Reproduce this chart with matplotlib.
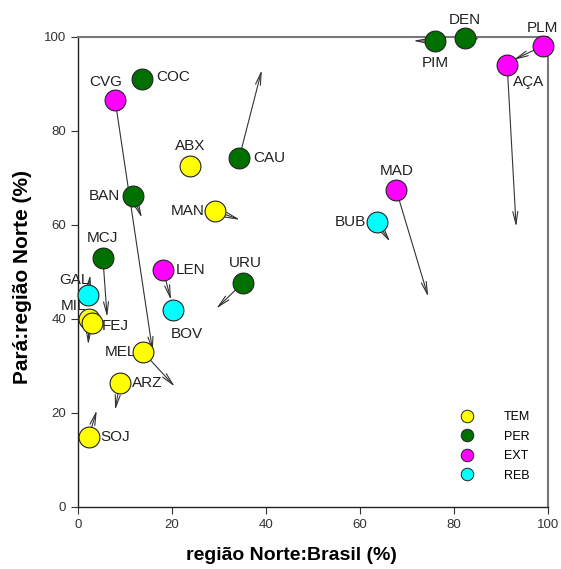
import matplotlib
matplotlib.use("Agg")
import matplotlib.pyplot as plt
from matplotlib.lines import Line2D

plt.rcParams['font.family'] = ['Liberation Sans', 'DejaVu Sans']

# products, group and position (x = região Norte:Brasil %, y = Pará:região Norte %)
names = ['PLM', 'DEN', 'PIM', 'AÇA', 'COC', 'CVG', 'ABX', 'CAU', 'MAD', 'BAN',
         'MAN', 'BUB', 'MCJ', 'LEN', 'URU', 'GAL', 'BOV', 'MIL', 'FEJ', 'MEL',
         'ARZ', 'SOJ']
groups = ['EXT', 'PER', 'PER', 'EXT', 'PER', 'EXT', 'TEM', 'PER', 'EXT', 'PER',
          'TEM', 'REB', 'PER', 'EXT', 'PER', 'REB', 'REB', 'TEM', 'TEM', 'TEM',
          'TEM', 'TEM']
x = [98.9, 82.3, 76.0, 91.3, 13.6, 7.9, 23.8, 34.3, 67.7, 11.7,
     29.1, 63.6, 5.3, 18.1, 35.1, 2.1, 20.2, 2.3, 3.0, 13.8,
     8.9, 2.3]
y = [98.1, 99.8, 99.1, 94.0, 91.1, 86.6, 72.6, 74.3, 67.4, 66.2,
     63.0, 60.6, 53.0, 50.4, 47.7, 45.1, 41.9, 40.0, 39.1, 33.0,
     26.4, 14.9]
# arrow end points (None = no arrow)
x_end = [92.6, 85.5, 71.3, 93.2, None, 15.9, None, 39.1, 74.5, 13.6,
         34.5, 66.4, 6.2, 19.8, 29.4, 2.6, None, 2.2, None, 20.6,
         7.9, 4.0]
y_end = [95.1, 99.6, 99.2, 59.6, None, 33.0, None, 93.0, 44.7, 61.5,
         61.1, 56.4, 40.4, 44.0, 42.2, 49.4, None, 34.5, None, 25.6,
         20.6, 20.6]

group_order = ['TEM', 'PER', 'EXT', 'REB']
group_colors = {'TEM': '#FFFF00', 'PER': '#007000', 'EXT': '#FF00FF', 'REB': '#00FFFF'}

# label offsets in points
offsets = {
    'PLM': (0, 13, 'center'), 'DEN': (0, 13, 'center'), 'PIM': (0, -16, 'center'),
    'AÇA': (4, -12, 'left'), 'COC': (10, 1, 'left'), 'CVG': (-7, 13, 'center'),
    'ABX': (0, 14, 'center'), 'CAU': (10, 0, 'left'), 'MAD': (0, 14, 'center'),
    'BAN': (-9, 0, 'right'), 'MAN': (-7, 0, 'right'), 'BUB': (-8, 0, 'right'),
    'MCJ': (0, 14, 'center'), 'LEN': (9, 0, 'left'), 'URU': (2, 14, 'center'),
    'GAL': (-10, 11, 'center'), 'BOV': (10, -17, 'center'), 'MIL': (-2, 9, 'right'),
    'FEJ': (7, -2, 'left'), 'MEL': (-5, 0, 'right'), 'ARZ': (9, 0, 'left'),
    'SOJ': (8, 0, 'left'),
}

fig = plt.figure(figsize=(5.61, 5.69), dpi=100)
ax = fig.add_axes([0.139, 0.109, 0.838, 0.826])

for i, n in enumerate(names):
    if x_end[i] is None:
        continue
    ax.annotate('', xy=(x_end[i], y_end[i]), xytext=(x[i], y[i]),
                arrowprops=dict(arrowstyle='->,head_length=0.9,head_width=0.18',
                                color='#333333', lw=0.8, shrinkA=0, shrinkB=0),
                zorder=2, annotation_clip=False)

for i, n in enumerate(names):
    ax.plot(x[i], y[i], 'o', ms=15, mfc=group_colors[groups[i]], mec='#222222',
            mew=0.8, zorder=3, clip_on=False)
    dx, dy, ha = offsets[n]
    ax.annotate(n, (x[i], y[i]), xytext=(dx, dy), textcoords='offset points',
                ha=ha, va='center', fontsize=11, color='#222222', zorder=2.5,
                annotation_clip=False)

ax.set_xlim(0, 100)
ax.set_ylim(0, 100)
ax.set_xticks(range(0, 101, 20))
ax.set_yticks(range(0, 101, 20))
ax.tick_params(direction='out', length=5, labelsize=9.5, colors='#333333')
for s in ['left', 'bottom']:
    ax.spines[s].set_color('#222222')
    ax.spines[s].set_linewidth(1.0)
for s in ['top', 'right']:
    ax.spines[s].set_color('#777777')
    ax.spines[s].set_linewidth(1.5)

ax.set_xlabel('região Norte:Brasil (%)', fontsize=14, fontweight='bold')
ax.xaxis.set_label_coords(0.455, -0.085)
ax.set_ylabel('Pará:região Norte (%)', fontsize=15, fontweight='bold')
ax.yaxis.set_label_coords(-0.098, 0.49)

handles = [Line2D([], [], marker='o', ls='', ms=9, mfc=group_colors[g],
                  mec='#222222', mew=0.7, label=g) for g in group_order]
ax.legend(handles=handles, loc='lower right', bbox_to_anchor=(0.985, 0.03),
          frameon=False, fontsize=9, handletextpad=1.9, labelspacing=0.6)

fig.savefig('out.png', dpi=100)
